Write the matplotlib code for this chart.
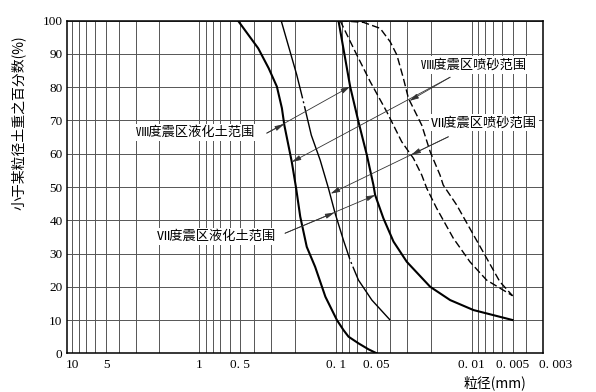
import numpy as np
import matplotlib
matplotlib.use('Agg')
from matplotlib import pyplot as plt
from matplotlib.transforms import ScaledTranslation

plt.rcParams['font.family'] = ['Noto Sans CJK SC', 'DejaVu Sans']
plt.rcParams['lines.scale_dashes'] = False

# grain size (mm) / percent finer (%)
c1_d = [0.52, 0.37, 0.31, 0.27, 0.248, 0.238, 0.21, 0.195, 0.182, 0.163, 0.1415,
        0.119, 0.098, 0.0877, 0.0805, 0.068, 0.0574, 0.05]
c1_p = [100, 91.7, 85.7, 80.2, 73.7, 68.6, 57.6, 49.6, 41.1, 32, 26, 17, 10, 7, 5, 3, 1.2, 0]

c2_d = [0.251, 0.216, 0.193, 0.175, 0.151, 0.130, 0.113, 0.101, 0.0877, 0.0783,
        0.068, 0.0542, 0.0398]
c2_p = [100, 90.7, 83.7, 76.7, 65.6, 58.1, 49.6, 42.1, 34, 28, 22, 16, 10]

c3_d = [0.0954, 0.0783, 0.068, 0.059, 0.0528, 0.0513, 0.0446, 0.0376, 0.030,
        0.0202, 0.0144, 0.0097, 0.005]
c3_p = [100, 80.2, 69.6, 59.6, 50.6, 47.6, 40.6, 33.6, 27.5, 20, 16, 13, 10]

c4_d = [0.0927, 0.0719, 0.0558, 0.0421, 0.0327, 0.0268, 0.0233, 0.0214, 0.0181,
        0.01365, 0.0103, 0.00776, 0.00586, 0.005]
c4_p = [100, 90.7, 81.7, 72.6, 63.6, 58.6, 53.6, 49.6, 43.6, 34.6, 27.5, 22, 19, 17.3]

c5_d = [0.0927, 0.0625, 0.0471, 0.0398, 0.0355, 0.0318, 0.0292, 0.0233, 0.0202,
        0.0171, 0.0162, 0.0129, 0.0097, 0.00776, 0.0062, 0.005]
c5_p = [100, 99.5, 97.7, 93.7, 89.7, 82.7, 76.7, 68.6, 60.6, 53.6, 50.6, 44.6,
        35.6, 28.6, 21.5, 17.3]

# labels and their leader lines: start, arrow on first curve, arrow on second curve
labels = ['Ⅷ度震区液化土范围', 'Ⅶ度震区液化土范围', 'Ⅷ度震区喷砂范围', 'Ⅶ度震区喷砂范围']
label_pos = [(0.2706, 0.6633), (0.3137, 0.3506), (0.8557, 0.8668), (0.8767, 0.6933)]
lead_start = [(0.320, 66.2), (0.235, 36.1), (0.01442, 83.0), (0.01485, 65.1)]
lead_mid = [(0.239, 68.9), (0.102, 42.3), (0.0287, 75.9), (0.0278, 59.7)]
lead_end = [(0.0783, 80.2), (0.051, 47.6), (0.210, 57.5), (0.109, 48.0)]

xtick_vals = [10, 5, 1, 0.5, 0.1, 0.05, 0.01, 0.005, 0.003]
xtick_labs = ['10', '5', '1', '0. 5', '0. 1', '0. 05', '0. 01', '0. 005', '0. 003']
xgrid_minor = [9, 8, 7, 4, 3, 2, 0.9, 0.8, 0.7, 0.6, 0.4, 0.3, 0.2,
               0.09, 0.08, 0.07, 0.06, 0.04, 0.03, 0.02,
               0.009, 0.008, 0.007, 0.006, 0.004]

# the printed log axis is a bit squeezed left of 1 mm
anch_log = np.array([np.log10(0.003), -2.0, -1.0, 0.0, np.log10(5), np.log10(7), 1.0, np.log10(10.87)])
anch_pix = np.array([542.7, 471.7, 335.7, 199.3, 106.0, 94.7, 72.0, 66.7])

def fwd(x):
    # increasing with x, like a log axis
    lx = np.log10(np.clip(np.asarray(x, dtype=float), 1e-9, None))
    return -np.interp(lx, anch_log, anch_pix)

def inv(p):
    return 10 ** np.interp(-np.asarray(p, dtype=float), anch_pix[::-1], anch_log[::-1])


fig = plt.figure(figsize=(5.96, 3.92), dpi=100)
ax = fig.add_axes([66.7/596, 1-353.3/392, 476/596, 332.6/392])
ax.set_xscale('function', functions=(fwd, inv))
ax.set_xlim(10.87, 0.003)
ax.set_ylim(0, 100)

ax.set_xticks(xtick_vals, labels=xtick_labs)
ax.set_xticks(xgrid_minor, minor=True)
ax.set_yticks(range(0, 101, 10))
ax.tick_params(which='both', length=0)
ax.tick_params(axis='x', pad=4)
ax.tick_params(axis='y', pad=3)
for lbl in ax.get_xticklabels() + ax.get_yticklabels():
    lbl.set_fontfamily('Liberation Serif')
    lbl.set_fontsize(9.5)
ax.get_xticklabels()[-1].set_transform(ax.get_xticklabels()[-1].get_transform()
                                      + ScaledTranslation(0.13, 0, fig.dpi_scale_trans))

ax.grid(True, which='both', color='#555555', lw=0.7)
ax.set_axisbelow(True)
for s in ax.spines.values():
    s.set_linewidth(1.1)

ax.plot(c1_d, c1_p, color='black', lw=1.5)
ax.plot(c2_d, c2_p, color='black', lw=1.0, ls=(0, (58, 2.2, 1.4, 2.2, 115, 2.2, 1.4, 2.2)))
ax.plot(c3_d, c3_p, color='black', lw=1.5)
ax.plot(c4_d, c4_p, color='black', lw=1.0, ls=(0, (5.4, 2.4)))
ax.plot(c5_d, c5_p, color='black', lw=1.0, ls=(0, (5.4, 2.4)))

arrow = dict(arrowstyle='-|>,head_length=0.55,head_width=0.15', lw=0.6, color='#333333',
             shrinkA=0, shrinkB=0, mutation_scale=10)
for s0, m, e in zip(lead_start, lead_mid, lead_end):
    ax.annotate('', xy=e, xytext=s0, arrowprops=arrow)
    ax.annotate('', xy=m, xytext=s0, arrowprops=arrow)

for t, (xf, yf) in zip(labels, label_pos):
    ax.text(xf, yf, t, transform=ax.transAxes, ha='center', va='center', fontsize=9.5,
            bbox=dict(facecolor='white', edgecolor='none', pad=1.5), zorder=5)

fig.text(18/596, 1-123/392, '小于某粒径土重之百分数(%)', rotation=90, ha='center', va='center', fontsize=10)
fig.text(495/596, 1-383/392, '粒径(mm)', ha='center', va='center', fontsize=10)

fig.savefig('out.png', dpi=100)
